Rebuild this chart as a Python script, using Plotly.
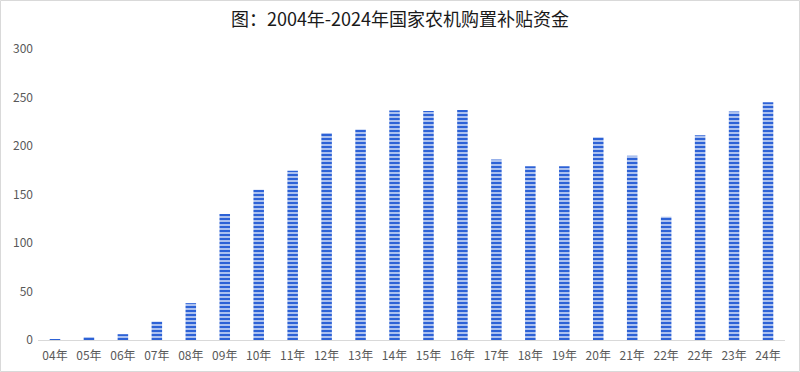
import plotly.graph_objects as go

years = ["04年", "05年", "06年", "07年", "08年", "09年", "10年", "11年", "12年", "13年", "14年",
         "15年", "16年", "17年", "18年", "19年", "20年", "21年", "22年", "22年", "23年", "24年"]
subsidy = [0.7, 3, 6, 19, 38, 130, 155, 174.5, 213.5, 217, 236.5, 236, 237, 186, 179, 179,
           209, 190, 127, 211, 235.5, 245]
y_ticks = [0, 50, 100, 150, 200, 250, 300]

positions = list(range(len(years)))

W, H = 800, 372
ml, mr, mt, mb = 38, 15, 49, 32
pw, ph = W - ml - mr, H - mt - mb

fig = go.Figure(go.Bar(
    x=positions, y=subsidy, width=0.31,
    marker=dict(color="#e2eafa", line=dict(width=0),
                pattern=dict(shape="-", fgcolor="#2d62d6", bgcolor="#e2eafa", size=4, solidity=0.65,
                             fillmode="replace")),
))

fig.update_layout(
    width=W, height=H,
    margin=dict(l=ml, r=mr, t=mt, b=mb, autoexpand=False),
    paper_bgcolor="white", plot_bgcolor="white",
    showlegend=False,
    title=dict(text="图：2004年-2024年国家农机购置补贴资金", x=0.5, xanchor="center",
               y=1 - 20 / H, yref="container", yanchor="middle",
               font=dict(family="Noto Sans CJK SC", size=18, color="#1a1a1a")),
    font=dict(family="Noto Sans CJK SC", color="#595959", size=12),
)
fig.update_xaxes(range=[-0.5, len(years) - 0.5], tickvals=positions, ticktext=years,
                 showline=True, linecolor="#d9d9d9", linewidth=1, showgrid=False, zeroline=False,
                 ticks="", ticklabelstandoff=5, automargin=False,
                 tickfont=dict(size=12, color="#595959"))
fig.update_yaxes(range=[0, 300], tickvals=y_ticks, showgrid=False, zeroline=False,
                 showline=False, ticks="", ticklabelstandoff=4, automargin=False,
                 tickfont=dict(size=12, color="#595959"))

fig.add_shape(type="rect", xref="paper", yref="paper",
              x0=(-ml + 0.5) / pw, x1=(pw + mr - 0.5) / pw,
              y0=(-mb + 0.5) / ph, y1=(ph + mt - 0.5) / ph,
              line=dict(color="#d9d9d9", width=1), fillcolor="rgba(0,0,0,0)", layer="below")

fig.write_html("out.html", config={"displayModeBar": False},
               post_script="document.body.style.margin='0';document.body.style.padding='0';")
